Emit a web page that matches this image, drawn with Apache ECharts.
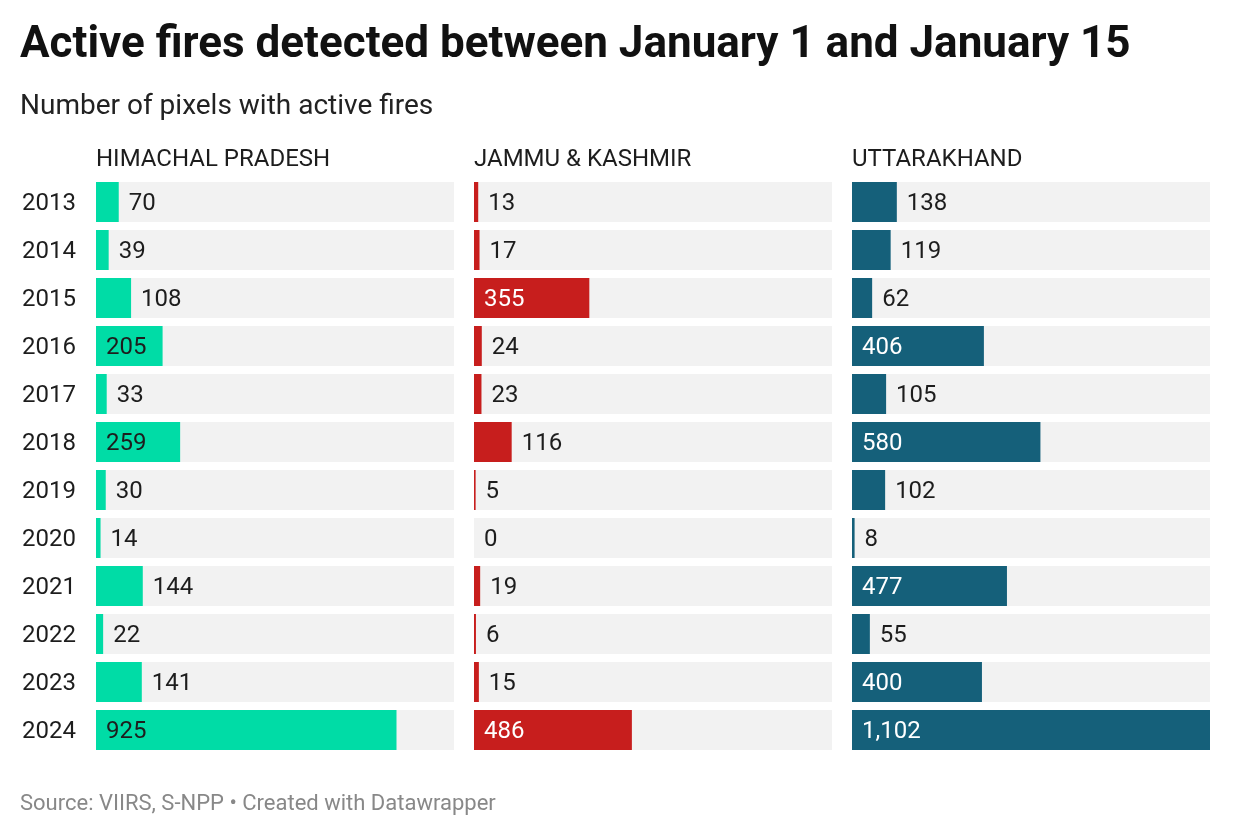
<!DOCTYPE html>
<html><head><meta charset="utf-8">
<script src="https://cdn.jsdelivr.net/npm/echarts@6/dist/echarts.min.js"></script>
<style>html,body{margin:0;padding:0;background:#fff}#c{width:1240px;height:836px}</style>
</head><body><div id="c"></div>
<script>
const years = ['2013','2014','2015','2016','2017','2018','2019','2020','2021','2022','2023','2024'];
const himachal = [70, 39, 108, 205, 33, 259, 30, 14, 144, 22, 141, 925];
const jammu = [13, 17, 355, 24, 23, 116, 5, 0, 19, 6, 15, 486];
const uttarakhand = [138, 119, 62, 406, 105, 580, 102, 8, 477, 55, 400, 1102];
const panelNames = ['HIMACHAL PRADESH', 'JAMMU & KASHMIR', 'UTTARAKHAND'];
const panelData = [himachal, jammu, uttarakhand];
const panelColors = ['#00dca6', '#c71e1d', '#15607a'];
const insideText = ['#1d1d1d', '#ffffff', '#ffffff'];
const xMax = 1102;
const insideThreshold = 180;

const FONT = 'Roboto, "Noto Sans", sans-serif';
const lefts = [96, 474, 852];
const panelW = 358;
const gridTop = 178, gridH = 576;

const chart = echarts.init(document.getElementById('c'), null, {renderer: 'canvas'});
const grids = [], xAxes = [], yAxes = [], series = [];
lefts.forEach((l, i) => {
  grids.push({left: l, top: gridTop, width: panelW, height: gridH});
  xAxes.push({type: 'value', gridIndex: i, min: 0, max: xMax, show: false});
  yAxes.push({
    type: 'category', gridIndex: i, data: years, inverse: true,
    axisLine: {show: false}, axisTick: {show: false}, splitLine: {show: false},
    axisLabel: {show: i === 0, align: 'left', margin: 74,
      formatter: v => '{y|' + v + '}',
      rich: {y: {fontFamily: FONT, fontSize: 24, color: '#1d1d1d', padding: [4, 0, 0, 0]}}}
  });
  series.push({
    type: 'bar', xAxisIndex: i, yAxisIndex: i, barWidth: 40,
    showBackground: true, backgroundStyle: {color: '#f2f2f2'},
    itemStyle: {color: panelColors[i]},
    silent: true, animation: false,
    label: {show: true, fontFamily: FONT, fontSize: 24, offset: [0, 2],
      formatter: p => Number(p.value).toLocaleString('en-US')},
    data: panelData[i].map(v => ({
      value: v,
      label: v >= insideThreshold
        ? {position: 'insideLeft', distance: 10, color: insideText[i]}
        : {position: 'right', distance: 10, color: '#1d1d1d'}
    }))
  });
});

const graphics = [
  {type: 'text', left: 20, top: 24, style: {text: 'Active fires detected between January 1 and January 15', font: 'bold 44px ' + FONT, fill: '#111'}},
  {type: 'text', left: 20, top: 93, style: {text: 'Number of pixels with active fires', font: '28px ' + FONT, fill: '#222'}},
  {type: 'text', left: 20, top: 793, style: {text: 'Source: VIIRS, S-NPP • Created with Datawrapper', font: '22px ' + FONT, fill: '#888'}}
];
panelNames.forEach((n, i) => {
  graphics.push({type: 'text', left: lefts[i], top: 148, style: {text: n, font: '24px ' + FONT, fill: '#1d1d1d'}});
});

chart.setOption({
  animation: false,
  grid: grids, xAxis: xAxes, yAxis: yAxes, series: series,
  graphic: graphics
});
</script></body></html>
